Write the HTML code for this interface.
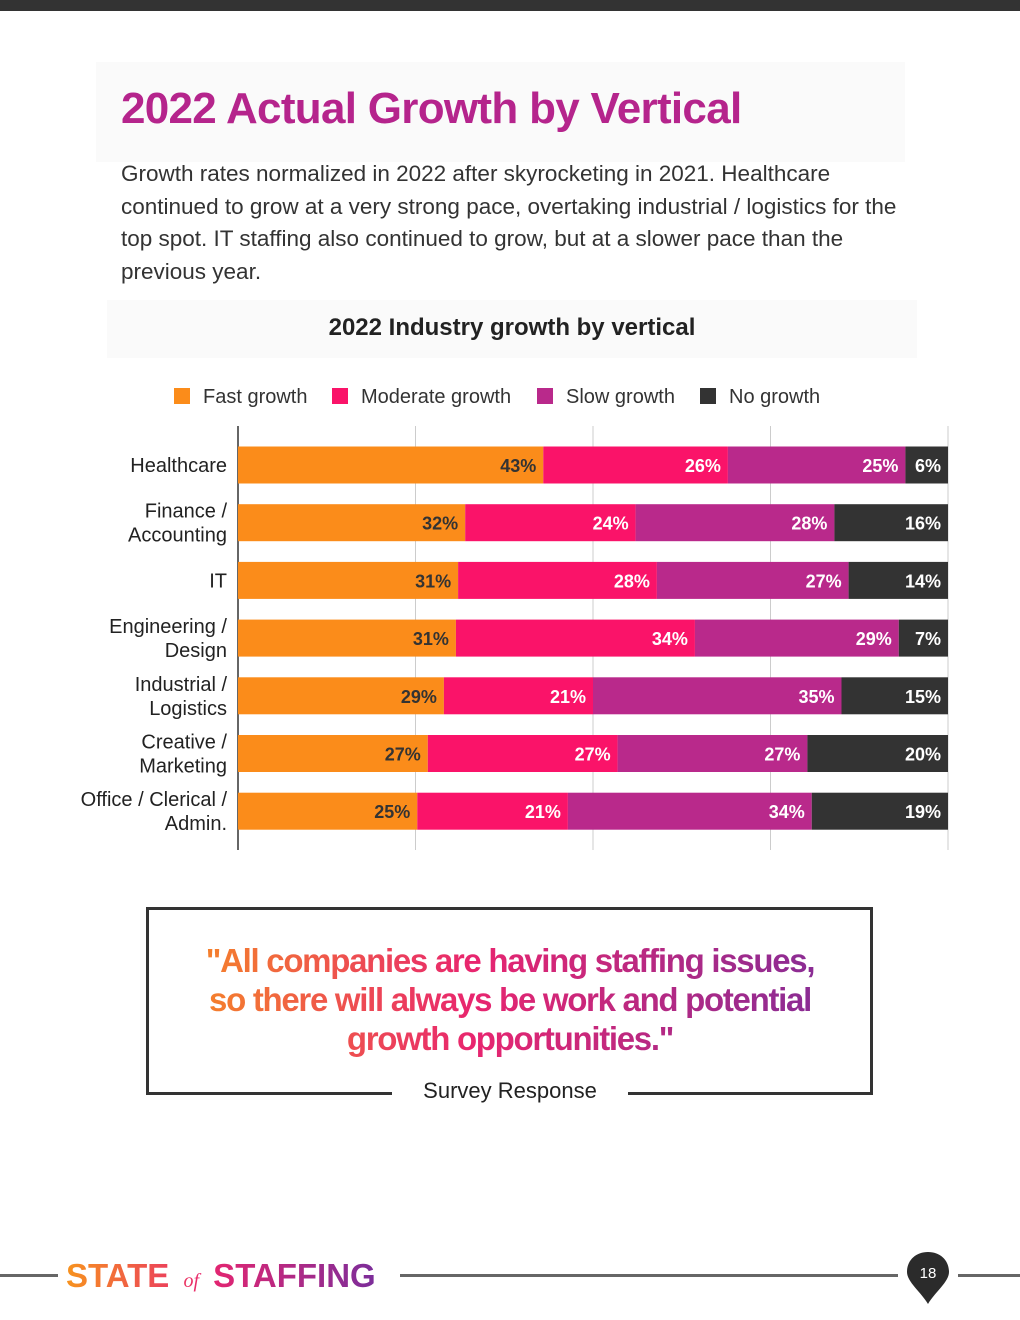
<!DOCTYPE html>
<html><head><meta charset="utf-8"><style>
body{margin:0;width:1020px;height:1320px;background:#fff;position:relative;overflow:hidden;font-family:"Liberation Sans",sans-serif}
.abs{position:absolute}
.grad{background:linear-gradient(90deg,#f7931e,#e8256f 45%,#7b2d9a);-webkit-background-clip:text;background-clip:text;color:transparent}
</style></head><body>
<div class="abs" style="left:0;top:0;width:1020px;height:11px;background:#333"></div>
<div class="abs" style="left:96px;top:62px;width:809px;height:100px;background:#fafafa"></div>
<div class="abs" style="left:121px;top:84px;font-size:44px;font-weight:bold;color:#b5248c;letter-spacing:-0.7px">2022 Actual Growth by Vertical</div>
<div class="abs" style="left:121px;top:158px;white-space:nowrap;font-size:22.5px;line-height:32.5px;color:#333">Growth rates normalized in 2022 after skyrocketing in 2021. Healthcare<br>continued to grow at a very strong pace, overtaking industrial / logistics for the<br>top spot. IT staffing also continued to grow, but at a slower pace than the<br>previous year.</div>
<div class="abs" style="left:107px;top:300px;width:810px;height:58px;background:#fafafa"></div>
<div class="abs" style="left:107px;top:314px;width:810px;text-align:center;font-size:24px;font-weight:bold;color:#222">2022 Industry growth by vertical</div>
<svg class="abs" style="left:0;top:370px" width="1020" height="500" id="chart"></svg>
<div class="abs" style="left:146px;top:907px;width:721px;height:182px;border:3px solid #333"></div>
<div class="abs" style="left:392px;top:1080px;width:236px;height:30px;background:#fff"></div>
<div class="abs grad" style="left:150px;top:941px;width:720px;text-align:center;font-size:33px;font-weight:bold;line-height:39px;letter-spacing:-1.3px">"All companies are having staffing issues,<br>so there will always be work and potential<br>growth opportunities."</div>
<div class="abs" style="left:392px;top:1078px;width:236px;text-align:center;font-size:22px;color:#222">Survey Response</div>
<div class="abs" style="left:0;top:1274px;width:58px;height:3px;background:#666"></div>
<div class="abs" style="left:400px;top:1274px;width:498px;height:3px;background:#666"></div>
<div class="abs" style="left:958px;top:1274px;width:62px;height:3px;background:#666"></div>
<div class="abs grad" style="left:66px;top:1257px;font-size:33px;font-weight:bold;letter-spacing:0px;white-space:nowrap">STATE <span style="font-family:'Liberation Serif',serif;font-style:italic;font-size:20px;font-weight:normal;text-decoration:underline">&nbsp;of&nbsp;</span> STAFFING</div>
<svg class="abs" style="left:905px;top:1250px" width="46" height="56"><path d="M23 2 C35 2 44 10 44 22 C44 32 30 42 23 54 C16 42 2 32 2 22 C2 10 11 2 23 2Z" fill="#2b2b2b"/><text x="23" y="28" text-anchor="middle" fill="#fff" font-size="15" font-family="Liberation Sans">18</text></svg>
<script>
const categories=[["Healthcare"],["Finance /","Accounting"],["IT"],["Engineering /","Design"],["Industrial /","Logistics"],["Creative /","Marketing"],["Office / Clerical /","Admin."]];
const seriesNames=["Fast growth","Moderate growth","Slow growth","No growth"];
const fast=[43,32,31,31,29,27,25];
const moderate=[26,24,28,34,21,27,21];
const slow=[25,28,27,29,35,27,34];
const none=[6,16,14,7,15,20,19];
const series=[fast,moderate,slow,none];
const colors=["#fb8c1a","#fa1369","#b9298b","#333333"];
const labelColors=["#333","#fff","#fff","#fff"];
const svg=document.getElementById('chart');
const NS="http://www.w3.org/2000/svg";
const x0=238,W=710;
const xs=v=>x0+v/100*W;
const yc=i=>95+i*57.7;
function mk(t,a){const e=document.createElementNS(NS,t);for(const k in a)e.setAttribute(k,a[k]);svg.appendChild(e);return e;}
[25,50,75,100].forEach(v=>{const l=mk('line',{x1:xs(v),x2:xs(v),y1:56,y2:480,stroke:'#ccc'});

});
const ax=mk('line',{x1:x0,x2:x0,y1:56,y2:480,stroke:'#333','stroke-width':1.5});


const lx=[174,332,537,700];
seriesNames.forEach((n,s)=>{
const r=mk('rect',{x:lx[s],y:18,width:16,height:16,fill:colors[s]});


const t=mk('text',{x:lx[s]+29,y:33,'font-size':20,fill:'#333','font-family':'Liberation Sans'});
t.textContent=n;

});
categories.forEach((c,i)=>{
const cy=yc(i);
c.forEach((ln,j)=>{const t=mk('text',{x:227,y:cy+7+(j-(c.length-1)/2)*24,'text-anchor':'end','font-size':20,fill:'#222','font-family':'Liberation Sans'});
t.textContent=ln;

});
const total=series.reduce((a,arr)=>a+arr[i],0);
let acc=0;
series.forEach((arr,s)=>{
const v=arr[i];
const a0=acc/total*100;acc+=v;const a1=acc/total*100;
const r=mk('rect',{x:xs(a0),y:cy-18.5,width:xs(a1)-xs(a0),height:37,fill:colors[s]});


const t=mk('text',{x:xs(a1)-7,y:cy+7,'text-anchor':'end','font-size':18,'font-weight':'bold',fill:labelColors[s],'font-family':'Liberation Sans'});
t.textContent=v+'%';


});});
</script>
</body></html>
